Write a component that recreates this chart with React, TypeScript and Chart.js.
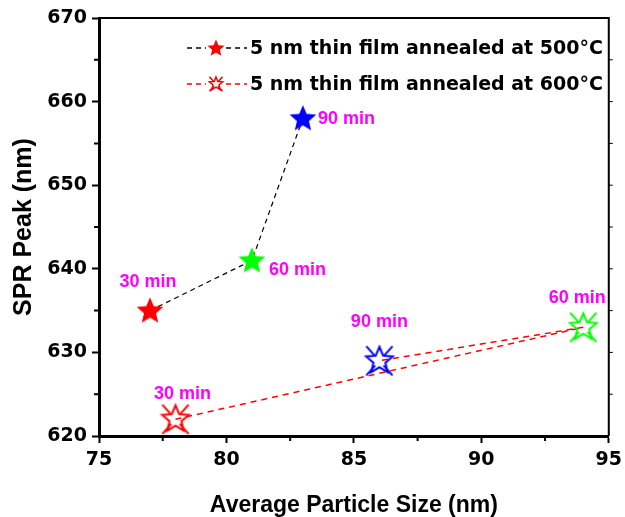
import { useEffect, useRef } from 'react';
import { Chart, registerables } from 'chart.js';
Chart.register(...registerables);

// ---- data ----
const sizes500 = [77, 81, 83];
const peaks500 = [635, 641, 658];
const times500 = ['30 min', '60 min', '90 min'];
const colors500 = ['#ff0000', '#00ff00', '#0000ff'];

const sizes600 = [78, 94, 86];
const peaks600 = [622, 633, 629];
const times600 = ['30 min', '60 min', '90 min'];
const colors600 = ['#ff0000', '#00ff00', '#0000ff'];

const seriesNames = ['5 nm thin film annealed at 500°C', '5 nm thin film annealed at 600°C'];
const xTicks = [75, 80, 85, 90, 95];
const yTicks = [620, 630, 640, 650, 660, 670];

const FONT = "'DejaVu Sans', sans-serif";
const LABEL_FONT = "'Liberation Sans', Arial, sans-serif";

function starPath(ctx: CanvasRenderingContext2D, cx: number, cy: number, R: number, r: number) {
  ctx.beginPath();
  for (let i = 0; i < 10; i++) {
    const rad = i % 2 === 0 ? R : r;
    const a = -Math.PI / 2 + (i * Math.PI) / 5;
    const px = cx + rad * Math.cos(a);
    const py = cy + rad * Math.sin(a);
    if (i === 0) ctx.moveTo(px, py);
    else ctx.lineTo(px, py);
  }
  ctx.closePath();
}

function drawFilledStar(ctx: CanvasRenderingContext2D, cx: number, cy: number, R: number, color: string) {
  starPath(ctx, cx, cy, R, R * 0.45);
  ctx.fillStyle = color;
  ctx.fill();
}

function drawOpenStar(ctx: CanvasRenderingContext2D, cx: number, cy: number, R: number, color: string, lw: number) {
  ctx.save();
  ctx.strokeStyle = color;
  ctx.lineWidth = lw;
  ctx.lineJoin = 'miter';
  ctx.setLineDash([]);
  starPath(ctx, cx, cy, R, R * 0.45);
  ctx.stroke();
  const L = R * 1.4;
  const r0 = R * 0.45;
  const angs = [-132, -48, 48, 132].map((d) => (d * Math.PI) / 180);
  ctx.beginPath();
  for (const a of angs) {
    ctx.moveTo(cx + r0 * Math.cos(a), cy + r0 * Math.sin(a));
    ctx.lineTo(cx + L * Math.cos(a), cy + L * Math.sin(a));
  }
  ctx.stroke();
  ctx.restore();
}

function filledStarImg(color: string, R: number) {
  const c = document.createElement('canvas');
  const s = Math.ceil(2 * R + 4);
  c.width = s;
  c.height = s;
  const ctx = c.getContext('2d')!;
  drawFilledStar(ctx, s / 2, s / 2 + R * 0.05, R, color);
  return c;
}

function openStarImg(color: string, R: number) {
  const c = document.createElement('canvas');
  const s = Math.ceil(2 * R * 1.4 + 6);
  c.width = s;
  c.height = s;
  const ctx = c.getContext('2d')!;
  drawOpenStar(ctx, s / 2, s / 2, R, color, 2);
  return c;
}

const labelOffsets = [
  [
    { dx: -2, dy: -29, align: 'center' },
    { dx: 17, dy: 10, align: 'left' },
    { dx: 15, dy: 1, align: 'left' },
  ],
  [
    { dx: 7, dy: -25, align: 'center' },
    { dx: -6, dy: -29, align: 'center' },
    { dx: 0, dy: -39, align: 'center' },
  ],
];
const timeLabels = [times500, times600];

const annotatePlugin = {
  id: 'annotate',
  afterDatasetsDraw(chart: any) {
    const ctx: CanvasRenderingContext2D = chart.ctx;
    const { left, right, top, bottom } = chart.chartArea;
    const xs = chart.scales.x;
    const ys = chart.scales.y;
    ctx.save();
    // top & right frame
    ctx.strokeStyle = '#000';
    ctx.lineWidth = 2;
    ctx.beginPath();
    ctx.moveTo(left, top);
    ctx.lineTo(right, top);
    ctx.lineTo(right, bottom);
    ctx.stroke();
    // minor ticks
    ctx.lineWidth = 2;
    ctx.beginPath();
    for (let i = 0; i < xTicks.length - 1; i++) {
      const px = xs.getPixelForValue((xTicks[i] + xTicks[i + 1]) / 2);
      ctx.moveTo(px, bottom);
      ctx.lineTo(px, bottom + 5);
    }
    for (let i = 0; i < yTicks.length - 1; i++) {
      const py = ys.getPixelForValue((yTicks[i] + yTicks[i + 1]) / 2);
      ctx.moveTo(left, py);
      ctx.lineTo(left - 5, py);
    }
    ctx.stroke();
    ctx.lineWidth = 1;
    ctx.beginPath();
    for (let v = yTicks[0] + 5; v < yTicks[yTicks.length - 1]; v += 5) {
      const py = ys.getPixelForValue(v);
      ctx.moveTo(right, py);
      ctx.lineTo(right + 4, py);
    }
    ctx.stroke();
    // time labels
    ctx.fillStyle = '#ff00ff';
    ctx.font = `bold 18px ${LABEL_FONT}`;
    ctx.textBaseline = 'middle';
    chart.data.datasets.forEach((_: any, di: number) => {
      const meta = chart.getDatasetMeta(di);
      meta.data.forEach((pt: any, i: number) => {
        const o = labelOffsets[di][i];
        ctx.textAlign = o.align as CanvasTextAlign;
        ctx.fillText(timeLabels[di][i], pt.x + o.dx, pt.y + o.dy);
      });
    });
    // legend
    const lx = left + 88;
    const rowY = [top + 30, top + 66];
    const ds = chart.data.datasets;
    seriesNames.forEach((name, i) => {
      const y = rowY[i];
      const d = ds[i];
      ctx.strokeStyle = d.borderColor;
      ctx.lineWidth = 1.5;
      ctx.setLineDash([5, 4]);
      ctx.beginPath();
      ctx.moveTo(lx, y);
      ctx.lineTo(lx + 19, y);
      ctx.moveTo(lx + 39, y);
      ctx.lineTo(lx + 60, y);
      ctx.stroke();
      ctx.setLineDash([]);
      if (i === 0) drawFilledStar(ctx, lx + 29, y + 0.5, 9, colors500[0]);
      else drawOpenStar(ctx, lx + 29, y, 7, colors600[0], 1.5);
      ctx.fillStyle = '#000';
      ctx.font = `bold 19px ${FONT}`;
      ctx.textAlign = 'left';
      ctx.textBaseline = 'middle';
      ctx.fillText(name, lx + 63, y + 1);
    });
    ctx.restore();
  },
};

export default function App() {
  const ref = useRef<HTMLCanvasElement>(null);
  useEffect(() => {
    const filled = colors500.map((c) => filledStarImg(c, 14));
    const open = colors600.map((c) => openStarImg(c, 14));
    const chart = new Chart(ref.current!, {
      type: 'scatter',
      data: {
        datasets: [
          {
            label: seriesNames[0],
            data: sizes500.map((x, i) => ({ x, y: peaks500[i] })),
            showLine: true,
            borderColor: '#000',
            borderWidth: 1.2,
            borderDash: [5, 4],
            pointStyle: filled as any,
            pointRadius: 14,
          },
          {
            label: seriesNames[1],
            data: sizes600.map((x, i) => ({ x, y: peaks600[i] })),
            showLine: true,
            borderColor: '#ff0000',
            borderWidth: 1.5,
            borderDash: [6, 5],
            pointStyle: open as any,
            pointRadius: 14,
          },
        ],
      },
      options: {
        animation: false,
        responsive: true,
        maintainAspectRatio: false,
        layout: { padding: { top: 18, right: 0, left: 0, bottom: 0 } },
        plugins: {
          tooltip: { enabled: false },
          legend: { display: false },
        },
        scales: {
          x: {
            type: 'linear',
            min: xTicks[0],
            max: xTicks[xTicks.length - 1],
            afterFit: (s: any) => {
              s.height = 81;
            },
            ticks: {
              stepSize: 5,
              color: '#000',
              padding: 6,
              font: { family: FONT, size: 19, weight: 'bold' },
            },
            grid: {
              display: true,
              drawOnChartArea: false,
              drawTicks: true,
              tickLength: 7,
              tickWidth: 2,
              tickColor: '#000',
            },
            border: { display: true, color: '#000', width: 3 },
            title: {
              display: true,
              text: 'Average Particle Size (nm)',
              color: '#000',
              font: { family: LABEL_FONT, size: 23, weight: 'bold', lineHeight: 1 },
              padding: { top: 0, bottom: 0 },
            },
          },
          y: {
            type: 'linear',
            min: yTicks[0],
            max: yTicks[yTicks.length - 1],
            afterFit: (s: any) => {
              s.width = 99;
            },
            ticks: {
              stepSize: 10,
              color: '#000',
              padding: 5,
              font: { family: FONT, size: 19, weight: 'bold' },
            },
            grid: {
              display: true,
              drawOnChartArea: false,
              drawTicks: true,
              tickLength: 7,
              tickWidth: 2,
              tickColor: '#000',
            },
            border: { display: true, color: '#000', width: 3 },
            title: {
              display: true,
              text: 'SPR Peak (nm)',
              color: '#000',
              font: { family: LABEL_FONT, size: 25, weight: 'bold', lineHeight: 1 },
              padding: { top: 12, bottom: 0 },
            },
          },
        },
      },
      plugins: [annotatePlugin],
    });
    return () => chart.destroy();
  }, []);
  return (
    <div style={{ position: 'absolute', left: 0, top: 0, width: 625, height: 517, overflow: 'hidden', background: '#fff' }}>
      <div style={{ position: 'relative', width: 628, height: 517 }}>
        <canvas ref={ref} />
      </div>
    </div>
  );
}
